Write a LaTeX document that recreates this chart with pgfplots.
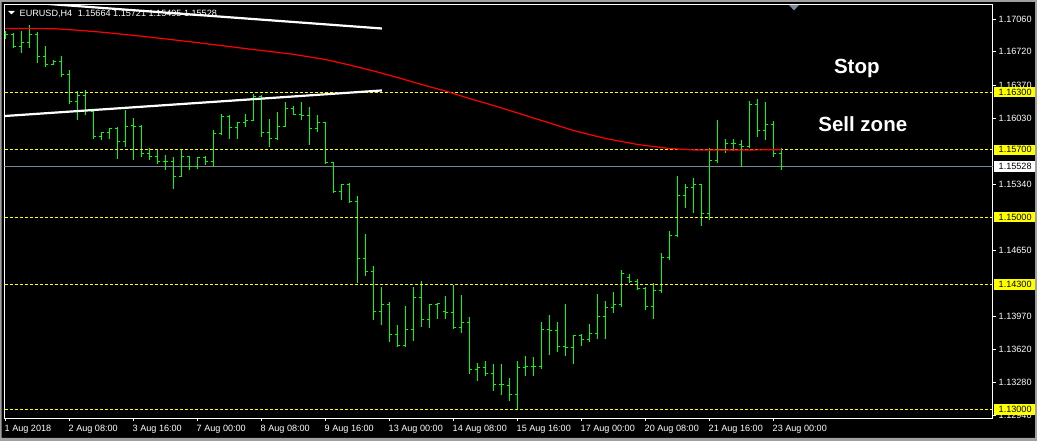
\documentclass[border=0pt]{standalone}
\usepackage{pgfplots}
\pgfplotsset{compat=1.18}
\usepackage{pgfplotstable}
\usepackage{fontspec}
\setmainfont{Liberation Sans}
\definecolor{barg}{HTML}{00FF00}
\definecolor{lvly}{HTML}{FFFF00}
\definecolor{bidg}{HTML}{778899}
\definecolor{winframe}{HTML}{A0A0A0}
\newcommand{\lab}{\fontsize{9.1bp}{10bp}\selectfont}

\pgfplotstableread{
i O H L C
0 1.16911 1.16935 1.16849 1.16904
1 1.16904 1.16911 1.16755 1.16772
2 1.16772 1.16935 1.16710 1.16814
3 1.16814 1.16998 1.16765 1.16904
4 1.16904 1.16922 1.16599 1.16675
5 1.16675 1.16779 1.16564 1.16588
6 1.16588 1.16633 1.16578 1.16619
7 1.16619 1.16675 1.16453 1.16488
8 1.16488 1.16536 1.16182 1.16199
9 1.16199 1.16310 1.16008 1.16262
10 1.16262 1.16321 1.16060 1.16113
11 1.16102 1.16106 1.15817 1.15835
12 1.15835 1.15887 1.15800 1.15880
13 1.15880 1.15929 1.15810 1.15922
14 1.15922 1.15939 1.15609 1.15790
15 1.15790 1.16113 1.15731 1.15939
16 1.15949 1.16036 1.15592 1.15946
17 1.15946 1.15956 1.15626 1.15661
18 1.15661 1.15720 1.15592 1.15626
19 1.15626 1.15696 1.15557 1.15574
20 1.15574 1.15644 1.15495 1.15574
21 1.15574 1.15626 1.15297 1.15425
22 1.15425 1.15696 1.15418 1.15626
23 1.15626 1.15633 1.15488 1.15522
24 1.15522 1.15626 1.15498 1.15616
25 1.15616 1.15633 1.15540 1.15574
26 1.15574 1.15911 1.15522 1.15869
27 1.15869 1.16078 1.15852 1.16043
28 1.16043 1.16060 1.15817 1.15932
29 1.15932 1.15991 1.15817 1.15981
30 1.15981 1.16078 1.15939 1.16008
31 1.16008 1.16279 1.16001 1.16258
32 1.16258 1.16269 1.15835 1.15880
33 1.15880 1.16026 1.15731 1.15817
34 1.15817 1.16095 1.15807 1.15946
35 1.15946 1.16199 1.15946 1.16130
36 1.16130 1.16154 1.16060 1.16067
37 1.16067 1.16199 1.16008 1.16060
38 1.16060 1.16147 1.15755 1.15922
39 1.15922 1.16060 1.15887 1.15981
40 1.15981 1.15984 1.15550 1.15564
41 1.15564 1.15574 1.15251 1.15262
42 1.15262 1.15349 1.15175 1.15342
43 1.15338 1.15359 1.15147 1.15158
44 1.15158 1.15217 1.14314 1.14567
45 1.14567 1.14821 1.14383 1.14435
46 1.14435 1.14488 1.13925 1.14019
47 1.14019 1.14272 1.13873 1.14088
48 1.14088 1.14113 1.13699 1.13776
49 1.13776 1.13873 1.13647 1.13665
50 1.13665 1.14074 1.13647 1.13828
51 1.13828 1.14272 1.13710 1.14165
52 1.14165 1.14331 1.13856 1.13932
53 1.13932 1.14099 1.13845 1.14092
54 1.14092 1.14109 1.13939 1.14106
55 1.14022 1.14175 1.13936 1.14012
56 1.14012 1.14290 1.13838 1.13849
57 1.13849 1.14186 1.13793 1.13901
58 1.13901 1.13960 1.13370 1.13411
59 1.13411 1.13484 1.13293 1.13436
60 1.13436 1.13498 1.13345 1.13370
61 1.13370 1.13467 1.13189 1.13255
62 1.13255 1.13467 1.13154 1.13255
63 1.13245 1.13321 1.13085 1.13151
64 1.13151 1.13498 1.13005 1.13436
65 1.13436 1.13550 1.13345 1.13442
66 1.13442 1.13540 1.13352 1.13442
67 1.13442 1.13904 1.13422 1.13828
68 1.13828 1.13977 1.13561 1.13821
69 1.13821 1.13904 1.13595 1.13651
70 1.13651 1.14092 1.13550 1.13640
71 1.13640 1.13776 1.13467 1.13769
72 1.13769 1.13779 1.13658 1.13727
73 1.13727 1.13890 1.13700 1.13786
74 1.13786 1.14196 1.13727 1.13967
75 1.13967 1.14123 1.13727 1.14057
76 1.14057 1.14217 1.14001 1.14092
77 1.14092 1.14446 1.14064 1.14411
78 1.14370 1.14404 1.14314 1.14328
79 1.14328 1.14352 1.14238 1.14255
80 1.14255 1.14272 1.14029 1.14071
81 1.14071 1.14317 1.13939 1.14238
82 1.14238 1.14630 1.14210 1.14578
83 1.14578 1.14852 1.14550 1.14814
84 1.14814 1.15425 1.14793 1.15224
85 1.15224 1.15342 1.15095 1.15307
86 1.15307 1.15404 1.15043 1.15338
87 1.15338 1.15349 1.14908 1.15036
88 1.15036 1.15724 1.14974 1.15588
89 1.15588 1.16008 1.15564 1.15703
90 1.15703 1.15817 1.15668 1.15769
91 1.15769 1.15817 1.15689 1.15765
92 1.15755 1.15800 1.15526 1.15734
93 1.15734 1.16210 1.15720 1.16175
94 1.16175 1.16227 1.15835 1.15904
95 1.15904 1.16199 1.15800 1.15967
96 1.15967 1.15998 1.15626 1.15665
97 1.15664 1.15721 1.15495 1.15528
}\bars

\pgfplotstableread{
i ma
0 1.16963
6 1.16961
9 1.16945
12 1.16925
18 1.16874
24 1.16816
30 1.16754
36 1.16694
40 1.16640
43 1.16583
46 1.16521
49 1.16453
52 1.16380
55 1.16312
58 1.16234
61 1.16162
64 1.16084
67 1.16006
71 1.15901
75 1.15818
79 1.15756
83 1.15714
86 1.15699
93 1.15699
97 1.15702
}\matab

\newcommand{\lvlbox}[3]{%
  \fill[#2] ([shift={(1.5bp,-5.2bp)}]#1) rectangle ([shift={(42.3bp,5.2bp)}]#1);
  \node[anchor=west, inner sep=0pt, text=black, font=\lab] at ([shift={(6bp,0bp)}]#1) {#3};
}

\begin{document}
\begin{tikzpicture}
\useasboundingbox (0,0) rectangle (1037bp,441bp);
\fill[black] (0,0) rectangle (1037bp,441bp);
\begin{axis}[
  at={(4.5bp,22.5bp)}, anchor=south west,
  scale only axis, width=988bp, height=414bp,
  xmin=-0.125, xmax=123.375, ymin=1.129046, ymax=1.172126,
  axis line style={white, line width=1bp},
  tick style={white, line width=1bp},
  tick align=outside, major tick length=3bp,
  xtick pos=left, ytick pos=right,
  scaled y ticks=false,
  xtick={0,8,...,96},
  xticklabels={1 Aug 2018, 2 Aug 08:00, 3 Aug 16:00, 7 Aug 00:00, 8 Aug 08:00, 9 Aug 16:00, 13 Aug 00:00, 14 Aug 08:00, 15 Aug 16:00, 17 Aug 00:00, 20 Aug 08:00, 21 Aug 16:00, 23 Aug 00:00},
  xticklabel style={font=\lab, text=white, anchor=north west, inner sep=0pt, xshift=-1bp, yshift=-3bp},
  ytick={1.1706,1.1672,1.1637,1.1603,1.1534,1.1465,1.1397,1.1362,1.1328,1.1294},
  yticklabels={1.17060,1.16720,1.16370,1.16030,1.15340,1.14650,1.13970,1.13620,1.13280,1.12940},
  yticklabel style={font=\lab, text=white, anchor=west, inner sep=0pt, xshift=3bp},
  clip mode=individual,
]
% bid line
\addplot[bidg, line width=1bp] coordinates {(-0.125,1.15528) (123.375,1.15528)};
% OHLC bars
\addplot[barg, line width=1bp, quiver={u=0, v=\thisrow{H}-\thisrow{L}}] table[x=i, y=L] {\bars};
\addplot[barg, line width=1bp, quiver={u=-0.34, v=0}] table[x=i, y=O] {\bars};
\addplot[barg, line width=1bp, quiver={u=0.34, v=0}] table[x=i, y=C] {\bars};
% level lines
\addplot[lvly, line width=1bp, dash pattern=on 3bp off 2bp] coordinates {(-0.125,1.163) (123.375,1.163)};
\addplot[lvly, line width=1bp, dash pattern=on 3bp off 2bp] coordinates {(-0.125,1.157) (123.375,1.157)};
\addplot[lvly, line width=1bp, dash pattern=on 3bp off 2bp] coordinates {(-0.125,1.150) (123.375,1.150)};
\addplot[lvly, line width=1bp, dash pattern=on 3bp off 2bp] coordinates {(-0.125,1.143) (123.375,1.143)};
\addplot[lvly, line width=1bp, dash pattern=on 3bp off 2bp] coordinates {(-0.125,1.130) (123.375,1.130)};
% moving average
\addplot[red, line width=1.2bp] table[x=i, y=ma] {\matab};
% trendlines
\addplot[white, line width=2.2bp] coordinates {(0,1.17251) (47.04,1.16963)};
\addplot[white, line width=2.2bp] coordinates {(-0.125,1.16052) (47.04,1.16318)};
% annotations
\node[anchor=base west, inner sep=0pt, text=white, font=\fontsize{20.5bp}{24bp}\selectfont\bfseries] at (axis cs:103.54,1.16497) {Stop};
\node[anchor=base west, inner sep=0pt, text=white, font=\fontsize{20.5bp}{24bp}\selectfont\bfseries] at (axis cs:101.58,1.15896) {Sell zone};
\coordinate (Y163) at (axis cs:123.375,1.163);
\coordinate (Y157) at (axis cs:123.375,1.157);
\coordinate (Y150) at (axis cs:123.375,1.150);
\coordinate (Y143) at (axis cs:123.375,1.143);
\coordinate (Y130) at (axis cs:123.375,1.130);
\coordinate (YBID) at (axis cs:123.375,1.15528);
\end{axis}
\lvlbox{Y163}{lvly}{1.16300}
\lvlbox{Y157}{lvly}{1.15700}
\lvlbox{Y150}{lvly}{1.15000}
\lvlbox{Y143}{lvly}{1.14300}
\lvlbox{Y130}{lvly}{1.13000}
\lvlbox{YBID}{white}{1.15528}
% header
\fill[white] (8bp,430bp) -- (15bp,430bp) -- (11.5bp,426.5bp) -- cycle;
\node[anchor=base west, inner sep=0pt, text=white, font=\lab] at (19.5bp,424.3bp) {EURUSD,H4\hspace{5.5bp}1.15664 1.15721 1.15495 1.15528};
% shift marker
\fill[bidg] (789bp,436bp) -- (799bp,436bp) -- (794bp,430.5bp) -- cycle;
% window frame
\fill[winframe, even odd rule] (0,0) rectangle (1037bp,441bp) (1.5bp,3bp) rectangle (1035bp,439bp);
\end{tikzpicture}
\end{document}
